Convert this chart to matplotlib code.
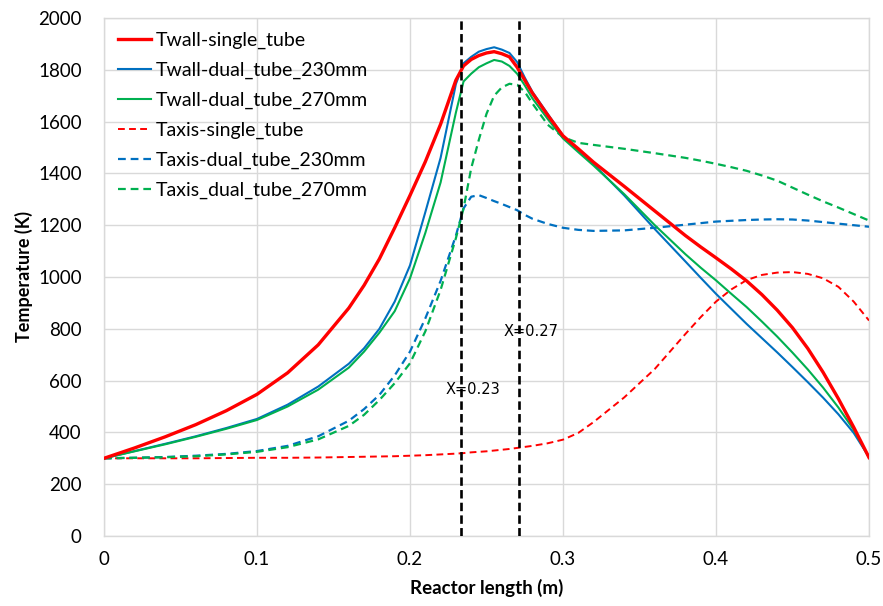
import matplotlib
matplotlib.use("Agg")
import matplotlib.pyplot as plt

# ---------------- data ----------------
x = [0, 0.02, 0.04, 0.06, 0.08, 0.1, 0.12, 0.14, 0.16, 0.17, 0.18, 0.19, 0.2,
     0.21, 0.22, 0.23, 0.235, 0.24, 0.245, 0.25, 0.255, 0.26, 0.265, 0.27,
     0.275, 0.28, 0.29, 0.3, 0.31, 0.32, 0.34, 0.36, 0.38, 0.39, 0.4, 0.41,
     0.42, 0.43, 0.44, 0.45, 0.46, 0.47, 0.48, 0.49, 0.5]

twall_single = [300, 340, 383, 430, 484, 547, 630, 738, 880, 968, 1070, 1190, 1315,
                1445, 1590, 1760, 1815, 1840, 1855, 1865, 1870, 1862, 1850, 1810,
                1760, 1710, 1625, 1545, 1495, 1443, 1350, 1255, 1160, 1116, 1074, 1031,
                985, 932, 872, 804, 724, 632, 530, 420, 303]

twall_230 = [300, 328, 356, 385, 417, 452, 507, 577, 665, 725, 800, 905, 1045,
             1250, 1460, 1745, 1825, 1850, 1870, 1880, 1887, 1878, 1865, 1830,
             1770, 1715, 1630, 1545, 1490, 1435, 1315, 1185, 1060, 997, 935, 877,
             819, 764, 709, 652, 594, 534, 470, 398, 305]

twall_270 = [300, 327, 354, 383, 414, 448, 500, 565, 650, 712, 785, 868, 995,
             1170, 1365, 1635, 1755, 1785, 1810, 1825, 1838, 1832, 1815, 1785,
             1740, 1690, 1610, 1535, 1482, 1430, 1320, 1200, 1088, 1036, 987, 935,
             884, 828, 770, 708, 643, 573, 496, 410, 303]

taxis_single = [300, 300, 300, 300, 301, 302, 302, 303, 305, 306, 307, 308, 310,
                312, 315, 318, 320, 323, 325, 327, 330, 333, 336, 340,
                344, 348, 358, 372, 398, 440, 535, 645, 780, 845, 905, 952,
                988, 1008, 1017, 1019, 1012, 995, 962, 905, 832]

taxis_230 = [300, 302, 305, 310, 317, 328, 348, 385, 445, 490, 545, 620, 712,
             840, 985, 1160, 1265, 1310, 1316, 1305, 1293, 1282, 1270, 1258,
             1240, 1225, 1205, 1190, 1182, 1178, 1180, 1190, 1202, 1208, 1214, 1217,
             1220, 1222, 1223, 1222, 1218, 1212, 1206, 1200, 1194]

taxis_270 = [300, 302, 304, 308, 315, 325, 343, 373, 425, 468, 525, 590, 667,
             790, 950, 1150, 1265, 1420, 1530, 1630, 1700, 1732, 1746, 1742,
             1715, 1670, 1588, 1540, 1518, 1510, 1495, 1478, 1460, 1449, 1437, 1424,
             1410, 1392, 1372, 1345, 1318, 1292, 1268, 1243, 1218]

series_labels = ["Twall-single_tube", "Twall-dual_tube_230mm", "Twall-dual_tube_270mm",
                 "Taxis-single_tube", "Taxis-dual_tube_230mm", "Taxis_dual_tube_270mm"]

vline_x = [0.2333, 0.271]
vline_labels = ["X=0.23", "X=0.27"]
vlabel_pos = [(0.2235, 564), (0.2614, 789)]

xticks = [0, 0.1, 0.2, 0.3, 0.4, 0.5]
xtick_labels = ["0", "0.1", "0.2", "0.3", "0.4", "0.5"]
yticks = [0, 200, 400, 600, 800, 1000, 1200, 1400, 1600, 1800, 2000]

# ---------------- plot ----------------
RED = "#FF0000"
BLUE = "#0070C0"
GREEN = "#00B050"
FONT = "Lato"

fig = plt.figure(figsize=(8.83, 6.06), dpi=100)
ax = fig.add_axes([104 / 883, 1 - 536 / 606, (869 - 104) / 883, (536 - 18) / 606])

ax.plot(x, twall_single, color=RED, lw=2.4, label=series_labels[0], zorder=5)
ax.plot(x, twall_230, color=BLUE, lw=1.5, label=series_labels[1], zorder=4)
ax.plot(x, twall_270, color=GREEN, lw=1.5, label=series_labels[2], zorder=4)
ax.plot(x, taxis_single, color=RED, lw=1.4, dashes=(3.5, 2.2), label=series_labels[3], zorder=3)
ax.plot(x, taxis_230, color=BLUE, lw=1.6, dashes=(3.5, 2.2), label=series_labels[4], zorder=3)
ax.plot(x, taxis_270, color=GREEN, lw=1.6, dashes=(3.5, 2.2), label=series_labels[5], zorder=3)

for vx in vline_x:
    ax.axvline(vx, color="black", lw=1.9, dashes=(3.2, 1.6), zorder=6)
for (tx, ty), lab in zip(vlabel_pos, vline_labels):
    ax.text(tx, ty, lab, fontsize=10.5, family="DejaVu Sans", ha="left", va="center",
            color="black", zorder=7)

ax.set_xlim(0, 0.5)
ax.set_ylim(0, 2000)
ax.set_xticks(xticks)
ax.set_xticklabels(xtick_labels)
ax.set_yticks(yticks)
ax.grid(True, color="#D9D9D9", lw=1.0, zorder=0)
ax.set_axisbelow(True)
for s in ax.spines.values():
    s.set_color("#D9D9D9")
    s.set_linewidth(1.0)
ax.tick_params(axis="both", length=0, labelsize=13.5)
ax.tick_params(axis="y", pad=16)
ax.tick_params(axis="x", pad=11)
for lab in ax.get_xticklabels() + ax.get_yticklabels():
    lab.set_fontfamily(FONT)

ax.set_xlabel("Reactor length (m)", fontsize=13.5, fontweight="bold", family=FONT, labelpad=8)
ax.set_ylabel("Temperature (K)", fontsize=13, fontweight="bold", family=FONT, labelpad=4)

leg = ax.legend(loc="upper left", bbox_to_anchor=(0.003, 0.996), frameon=False,
                prop={"family": FONT, "size": 14}, handlelength=1.7,
                handletextpad=0.26, labelspacing=0.66, borderaxespad=0.2)

fig.savefig("out.png", dpi=100)
